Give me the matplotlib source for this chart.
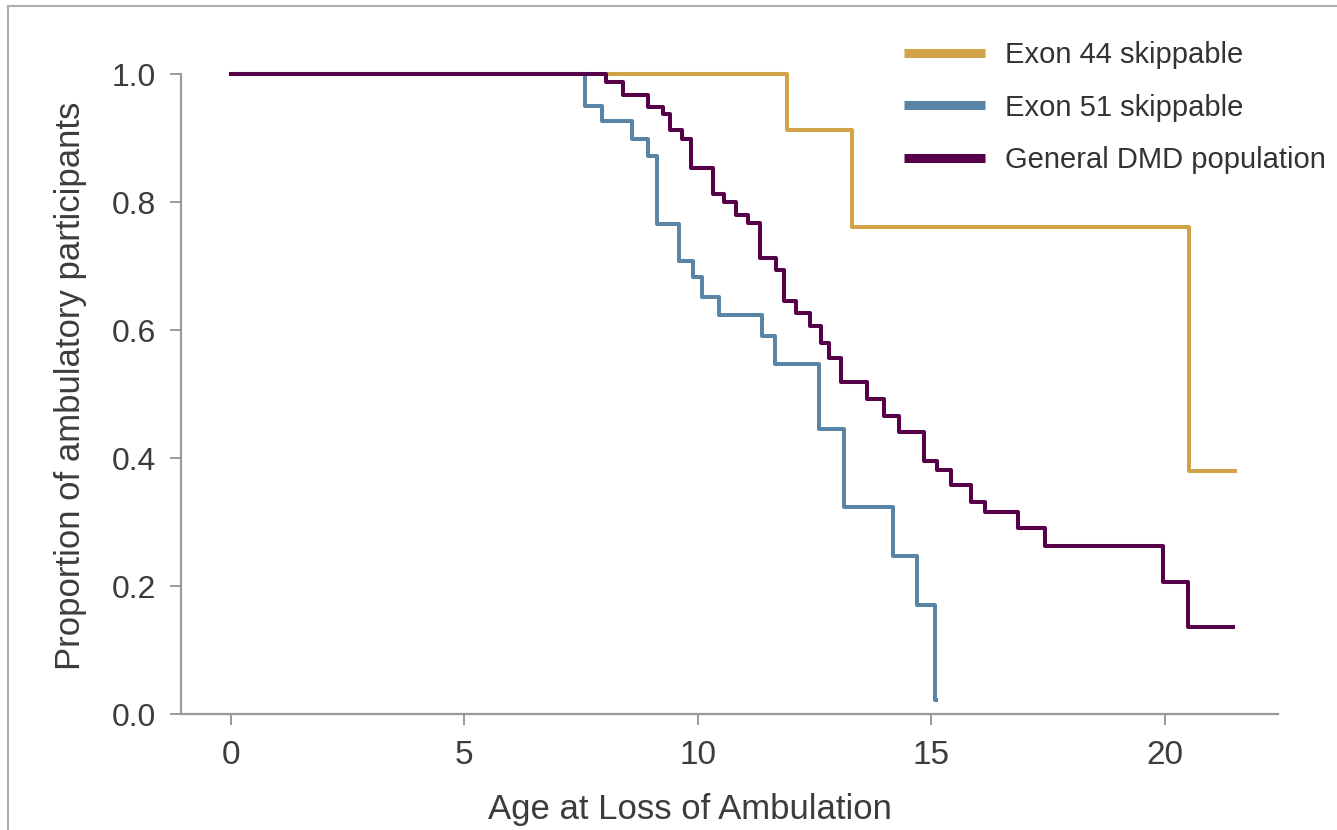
import matplotlib
matplotlib.use("Agg")
import matplotlib.pyplot as plt
from matplotlib.lines import Line2D

plt.rcParams['font.family'] = ['Liberation Sans', 'DejaVu Sans']

# ---- data ----
exon44_t = [0, 11.91, 13.29, 20.51, 21.50]
exon44_s = [1.0, 0.913, 0.761, 0.380, 0.380]

exon51_t = [0, 7.58, 7.94, 8.58, 8.94, 9.13, 9.60, 9.89, 10.09, 10.44, 11.38,
            11.64, 12.60, 13.13, 14.17, 14.70, 15.07, 15.09]
exon51_s = [1.0, 0.950, 0.927, 0.898, 0.872, 0.766, 0.708, 0.683, 0.652, 0.623,
            0.591, 0.547, 0.445, 0.323, 0.247, 0.171, 0.022, 0.022]

dmd_t = [0, 8.03, 8.39, 8.92, 9.26, 9.40, 9.66, 9.84, 10.33, 10.56, 10.81,
         11.08, 11.33, 11.66, 11.84, 12.10, 12.40, 12.63, 12.80, 13.06, 13.62,
         13.98, 14.31, 14.85, 15.11, 15.41, 15.84, 16.15, 16.85, 17.43, 19.96,
         20.49, 21.46]
dmd_s = [1.0, 0.987, 0.967, 0.949, 0.937, 0.912, 0.899, 0.853, 0.812, 0.800,
         0.780, 0.767, 0.713, 0.693, 0.646, 0.626, 0.606, 0.580, 0.557, 0.519,
         0.492, 0.466, 0.440, 0.396, 0.381, 0.358, 0.332, 0.316, 0.290, 0.263,
         0.207, 0.136, 0.136]

labels = ["Exon 44 skippable", "Exon 51 skippable", "General DMD population"]
colors = ["#D0A348", "#5A84A6", "#57004A"]

xticks = [0, 5, 10, 15, 20]
yticks = [0.0, 0.2, 0.4, 0.6, 0.8, 1.0]

# ---- figure ----
W, H = 1337, 830
fig = plt.figure(figsize=(W / 100, H / 100), dpi=100)
ax = fig.add_axes([181 / W, (H - 714) / H, (1278 - 181) / W, (714 - 74) / H])

lw = 2.9
l2, = ax.step(exon51_t, exon51_s, where='post', color=colors[1], lw=lw, clip_on=False, zorder=3)
l1, = ax.step(exon44_t, exon44_s, where='post', color=colors[0], lw=lw, clip_on=False, zorder=3)
l3, = ax.step(dmd_t, dmd_s, where='post', color=colors[2], lw=lw, clip_on=False, zorder=4)

ax.set_xlim(-1.07, 22.42)
ax.set_ylim(0, 1.0)
ax.set_xticks(xticks)
ax.set_yticks(yticks)
ax.set_xticklabels([str(t) for t in xticks])
ax.set_yticklabels([f"{t:.1f}" for t in yticks])

for side in ['top', 'right']:
    ax.spines[side].set_visible(False)
for side in ['left', 'bottom']:
    ax.spines[side].set_color('#9a9a9a')
    ax.spines[side].set_linewidth(1.6)
ax.spines['left'].set_bounds(0, 1.0)

ax.tick_params(axis='both', colors='#9a9a9a', width=1.4, length=8,
               labelcolor='#3a3d40', labelsize=23)
ax.tick_params(axis='x', pad=11, labelsize=24)
ax.tick_params(axis='y', pad=10)

ax.set_xlabel("Age at Loss of Ambulation", fontsize=25, color='#3a3d40')
ax.xaxis.set_label_coords(0.464, -0.164)
ax.xaxis.label.set_verticalalignment('baseline')
ax.set_ylabel("Proportion of ambulatory participants", fontsize=25, color='#3a3d40')
ax.yaxis.set_label_coords(-0.092, 0.5125)
ax.yaxis.label.set_verticalalignment('baseline')

handles = [Line2D([], [], color=c, lw=6.5, solid_capstyle='butt') for c in colors]
fig.legend(handles, labels, loc='upper left',
           bbox_to_anchor=(904 / W, (H - 41) / H), bbox_transform=fig.transFigure,
           frameon=False, fontsize=21, handlelength=2.77, handletextpad=0.68,
           labelspacing=0.84, borderpad=0, borderaxespad=0, labelcolor='#333333')

# figure border (top and left edges visible)
fig.add_artist(Line2D([8 / W, 1], [(H - 6) / H, (H - 6) / H], color='#b0b0b0', lw=1.5,
                      transform=fig.transFigure))
fig.add_artist(Line2D([8 / W, 8 / W], [0, (H - 6) / H], color='#b0b0b0', lw=1.5,
                      transform=fig.transFigure))

fig.savefig("out.png", dpi=100)
